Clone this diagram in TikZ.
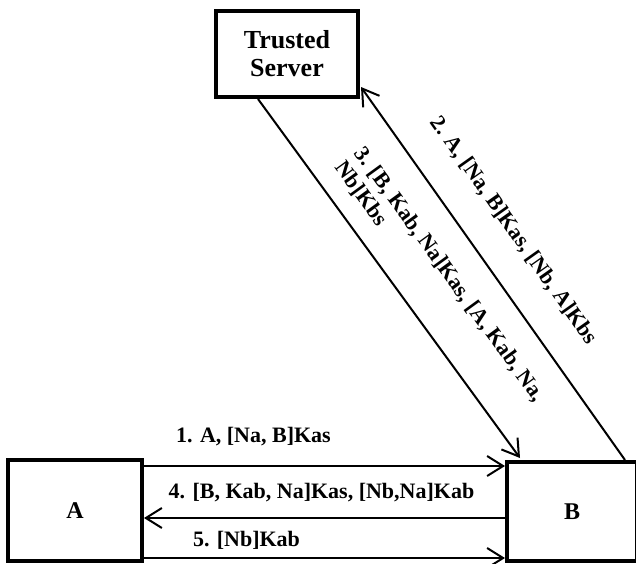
\documentclass[tikz,border=0pt]{standalone}
\usepackage{fontspec}
\setmainfont{Liberation Serif}
\usetikzlibrary{arrows.meta}
\begin{document}
\begin{tikzpicture}[x=0.5pt,y=-0.5pt,
  box/.style={draw, line width=2pt, inner sep=0pt, font=\fontsize{12}{14}\selectfont\bfseries},
  arr/.style={line width=1pt, -{Straight Barb[length=8pt,width=10pt,line width=1pt]}},
  lbl/.style={font=\fontsize{11}{12}\selectfont\bfseries, inner sep=0pt}]
\useasboundingbox (0,0) rectangle (636,563);
\fill[white] (0,0) rectangle (636,563);
\node[box, minimum width=71pt, minimum height=43pt, align=center, font=\fontsize{13}{14}\selectfont\bfseries] (S) at (287,54) {Trusted\\Server};
\node[box, minimum width=67pt, minimum height=50.5pt] (A) at (75,510.5) {A};
\node[box, minimum width=65pt, minimum height=49.5pt] (B) at (572,511.5) {B};
% horizontal messages
\draw[arr] ([yshift=-4pt]A.north east) -- ([yshift=-3pt]B.north west);
\draw[arr] ([yshift=-3.25pt]B.west) -- ([yshift=-3.75pt]A.east);
\draw[arr] ([yshift=2.5pt]A.south east) -- ([yshift=2.5pt]B.south west);
% diagonal messages
\draw[arr] ([xshift=-14.5pt]S.south) -- ([xshift=7.5pt,yshift=1pt]B.north west);
\draw[arr] ([xshift=60pt]B.north west) -- ([xshift=0.5pt,yshift=6pt]S.south east);
% labels
\node[lbl, anchor=base] (l1) at (253.5,442) {1. A, [Na, B]Kas};
\node[lbl, anchor=base] (l4) at (321.5,498.5) {4. [B, Kab, Na]Kas, [Nb,Na]Kab};
\node[lbl, anchor=base] (l5) at (246.5,546.5) {5. [Nb]Kab};
\node[lbl, rotate=-54.7] (l2) at (513.5,230.5) {2. A, [Na, B]Kas, [Nb, A]Kbs};
\node[lbl, rotate=-54, align=left] (l3) at (439.5,281.5) {3. [B, Kab, Na]Kas, [A, Kab, Na,\\Nb]Kbs};
\end{tikzpicture}
\end{document}
